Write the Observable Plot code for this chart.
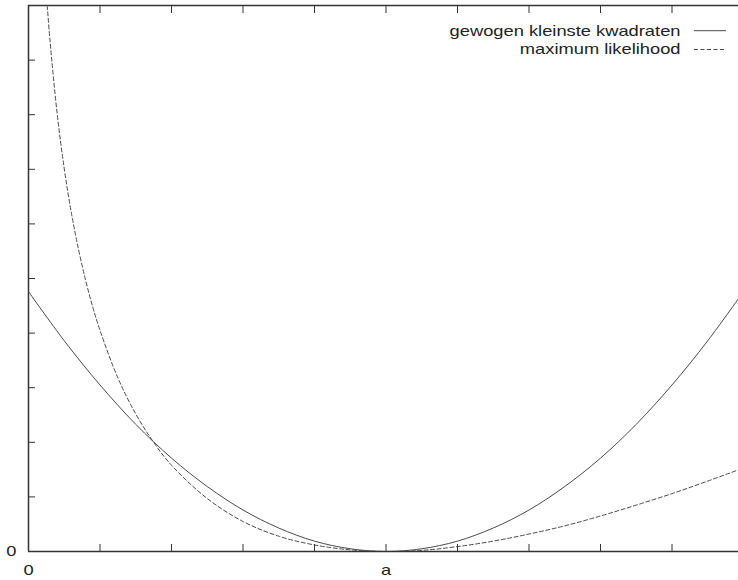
<!DOCTYPE html>
<html><head><meta charset="utf-8">
<script src="https://cdn.jsdelivr.net/npm/d3@7"></script>
<script src="https://cdn.jsdelivr.net/npm/@observablehq/plot@0.6"></script>
<style>body{margin:0;background:#fff}#chart svg{display:block}</style>
</head><body><div id="chart"></div>
<script>
// solid curve: "gewogen kleinste kwadraten"
const wlsT = [0,0.5,1,1.5,2,2.5,3,3.5,4,4.5,5,5.5,6,6.5,7,7.5,8,8.5,9,9.5,10];
const wlsV = [4.76,3.86,3.05,2.33,1.71,1.19,0.76,0.43,0.19,0.05,0,0.05,0.19,0.43,0.76,1.19,1.71,2.33,3.05,3.86,4.76];
// dashed curve: "maximum likelihood"
const mlT = [0.262,0.3,0.4,0.5,0.6,0.7,0.8,0.9,1,1.25,1.5,1.75,2,2.5,3,3.5,4,4.5,5,5.5,6,6.5,7,7.5,8,8.5,9,9.5,10];
const mlV = [10,9.37,8.03,7.01,6.2,5.53,4.96,4.47,4.05,3.18,2.52,2.0,1.58,0.97,0.55,0.28,0.12,0.03,0,0.02,0.09,0.19,0.32,0.47,0.65,0.85,1.06,1.29,1.53];
const seriesNames = ["gewogen kleinste kwadraten","maximum likelihood"];
const xTicks = [0,1,2,3,4,5,6,7,8,9];
const yTicks = [0,1,2,3,4,5,6,7,8,9,10];
const xLabelTicks = [0,5];
const xLabelText = ["0","a"];
const yLabelTicks = [0];
const yLabelText = ["0"];

const wls = wlsT.map((t,i)=>({t, v: wlsV[i]}));
const ml = mlT.map((t,i)=>({t, v: mlV[i]}));
const ink = "#333";
const curveInk = "#4a4a4a";

function legendSamples(index, scales, values, dims) {
  const W = dims ? dims.width - dims.marginRight : 738;
  const top = dims ? dims.marginTop : 5;
  const g = d3.create("svg:g");
  const ys = [30.7 - top, 49.5 - top];
  ys.forEach((y, i) => {
    g.append("line")
      .attr("x1", W - 44).attr("x2", W - 12)
      .attr("y1", top + y).attr("y2", top + y)
      .attr("stroke", curveInk).attr("stroke-width", 1)
      .attr("stroke-dasharray", i === 1 ? "4,2.5" : null);
  });
  return g.node();
}

const chart = Plot.plot({
  width: 738, height: 580,
  marginLeft: 28, marginRight: 0, marginTop: 5, marginBottom: 29,
  style: {fontFamily: "'Liberation Sans', Arial, sans-serif", fontSize: "15px", color: "#222", background: "#fff"},
  x: {domain: [0, 9.93]},
  y: {domain: [0, 10]},
  marks: [
    Plot.ruleY([0, 10], {stroke: ink, strokeWidth: 1.5}),
    Plot.ruleX([0], {stroke: ink, strokeWidth: 1.5}),
    Plot.axisX({ticks: xTicks, anchor: "bottom", tickSize: -7, tickFormat: () => "", label: null, stroke: ink}),
    Plot.axisX({ticks: xTicks, anchor: "top", tickSize: -7, tickFormat: () => "", label: null, stroke: ink}),
    Plot.axisY({ticks: yTicks, anchor: "left", tickSize: -7, tickFormat: () => "", label: null, stroke: ink}),
    Plot.axisX({ticks: xLabelTicks, anchor: "bottom", tickSize: 0, tickPadding: 13, tickFormat: (d, i) => xLabelText[i], label: null, fill: "#222"}),
    Plot.axisY({ticks: yLabelTicks, anchor: "left", tickSize: 0, tickPadding: 12, tickFormat: (d, i) => yLabelText[i], label: null, fill: "#222"}),
    Plot.line(wls, {x: "t", y: "v", stroke: curveInk, strokeWidth: 1, curve: "catmull-rom", clip: true}),
    Plot.line(ml, {x: "t", y: "v", stroke: curveInk, strokeWidth: 1, strokeDasharray: "4,2.5", curve: "catmull-rom", clip: true}),
    Plot.text([seriesNames[0]], {text: d => d, frameAnchor: "top-right", textAnchor: "end", lineAnchor: "middle", dx: -58, dy: 25.5, fill: "#222"}),
    Plot.text([seriesNames[1]], {text: d => d, frameAnchor: "top-right", textAnchor: "end", lineAnchor: "middle", dx: -58, dy: 43.8, fill: "#222"}),
    legendSamples
  ]
});
document.getElementById("chart").append(chart);
chart.querySelectorAll("text").forEach(t => {
  if (!t.textContent) return;
  const L = t.getComputedTextLength();
  t.setAttribute("textLength", (L * 1.22).toFixed(2));
  t.setAttribute("lengthAdjust", "spacingAndGlyphs");
});
</script>
</body></html>
